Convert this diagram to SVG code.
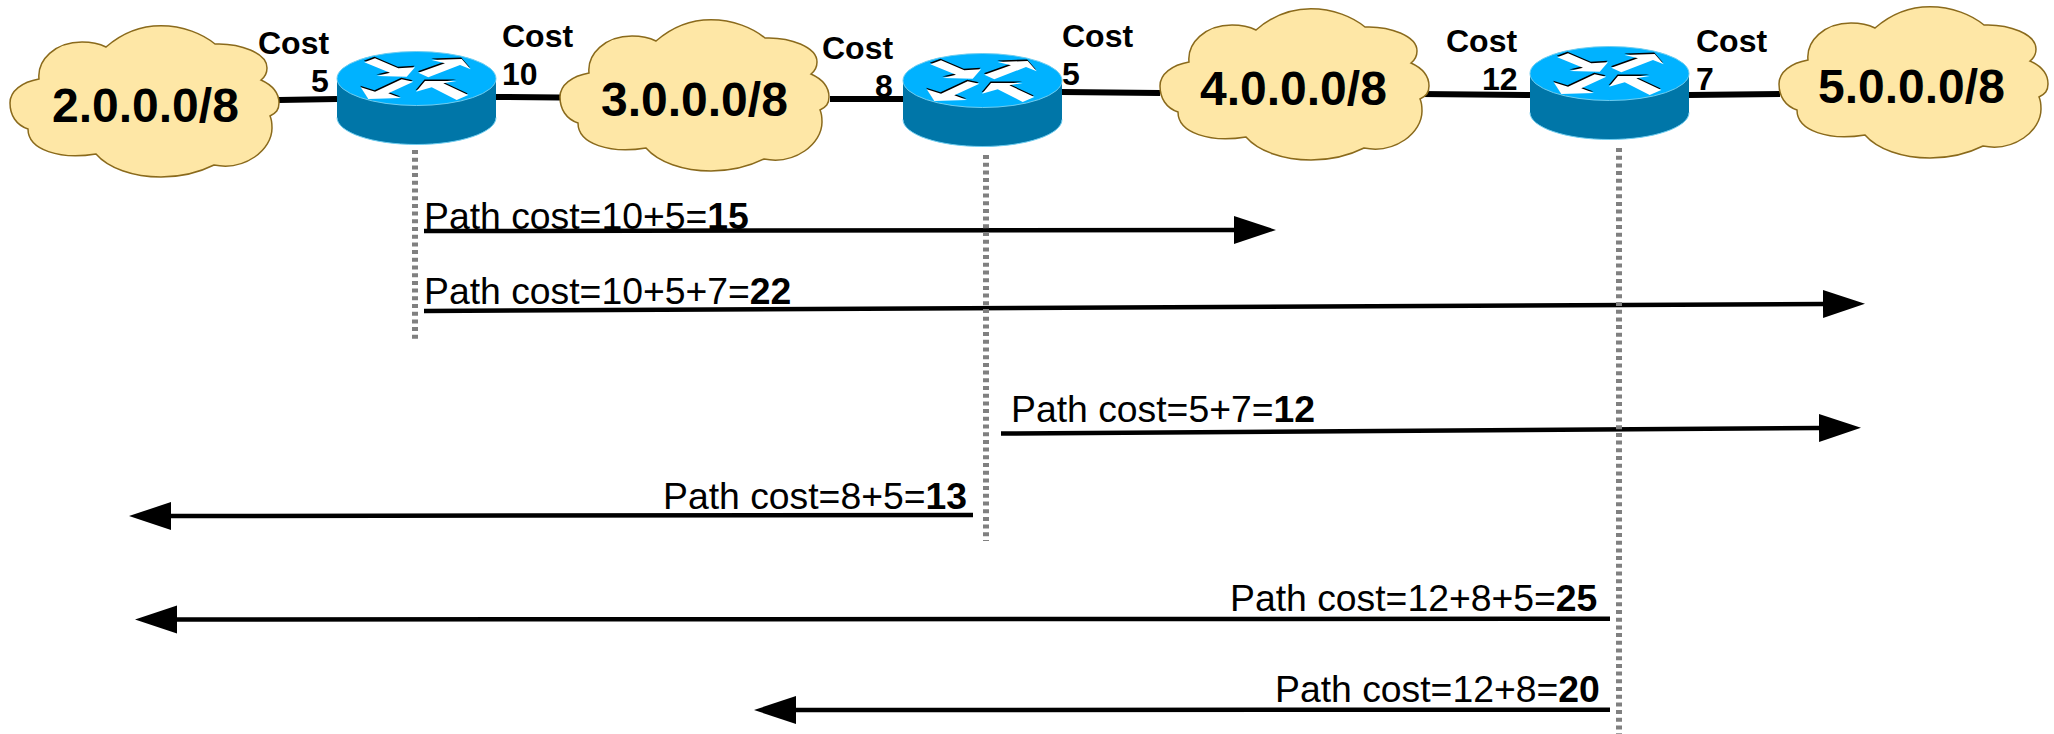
<svg xmlns="http://www.w3.org/2000/svg" xmlns:xlink="http://www.w3.org/1999/xlink" width="2054" height="734" viewBox="0 0 2054 734">
<style>
text{font-family:"Liberation Sans",Arial,sans-serif;fill:#000}
.net{font-size:48px;font-weight:700}
.cost{font-size:32px;font-weight:700}
.path{font-size:37.33px}
.path tspan{font-weight:700}
.link{stroke:#000;stroke-width:6;fill:none}
.arr{stroke:#000;stroke-width:4.5;fill:none;marker-end:url(#head)}
.dot{stroke:#808080;stroke-width:6;stroke-dasharray:4 3.7;fill:none}
.cloud{fill:#fee7a6;stroke:#8a6a1c;stroke-width:1.5}
</style>
<defs>
<marker id="head" markerUnits="userSpaceOnUse" markerWidth="44" markerHeight="30" viewBox="0 0 44 30" refX="1" refY="15" orient="auto"><path d="M0 1L42 15L0 29z" fill="#000"/></marker>
<path id="cl" class="cloud" d="M106 47C122 33 140 25.7 161 25.7C183 25.7 203 34 215 44C240 43 267 53 267 68C267 73 265 77 261 80C272 85 279 93 279 103C279 110 276 113 270 116C272 120 272 124 272 128C272 150 245 171 214 165C200 172 182 177 161 177C133 177 108 168 96 154C60 160 28 150 28 129C16 125 10 115 10 103C10 91 22 82 39 79C37 60 55 42 82 42C92 42 100 44 106 47Z"/>
<g id="arrows">
<path d="M364.3 62.3L375 58.3L398.3 68.3L415 67.3L406.7 76.7L376.7 76L390 72.7Z"/>
<path d="M418.3 72.7L445 63.3L431.7 60L461.7 59L470.7 69.3L460 65L428.3 77.3Z"/>
<path d="M360.7 87.3L375 91.7L401.7 79.3L413.3 81.7L388.3 93.3L401 98L368.3 99Z"/>
<path d="M416 91.7L425 81L456.7 81L443.3 83.3L468.3 95L456.7 100L431.7 87.3Z"/>
</g>
<g id="rt">
<path d="M337 78.5V117.5C337 132.4 372.6 144.5 416.5 144.5C460.4 144.5 496 132.4 496 117.5V78.5Z" fill="#0076a8"/>
<path d="M337 117.5C337 132.4 372.6 144.5 416.5 144.5C460.4 144.5 496 132.4 496 117.5" fill="none" stroke="#6fcdf0" stroke-width="1"/>
<ellipse cx="416.5" cy="78.5" rx="79.5" ry="27" fill="#00b2ff" stroke="#6fcdf0" stroke-width="1"/>
<use xlink:href="#arrows" href="#arrows" fill="#000" transform="translate(-.5 -1.5)"/>
<use xlink:href="#arrows" href="#arrows" fill="#fff"/>
</g>
</defs>
<g id="connectors">
<path class="link" d="M279 100L337 99"/>
<path class="link" d="M496 97L560 97.5"/>
<path class="link" d="M830 99L903 99"/>
<path class="link" d="M1062 92L1160 93"/>
<path class="link" d="M1420 94L1530 95"/>
<path class="link" d="M1689 95L1780 94"/>
<path class="arr" d="M424 231L1235 230"/>
<path class="arr" d="M424 311L1824 304"/>
<path class="arr" d="M1001 433.500L1820 428"/>
<path class="arr" d="M973 515L170 516"/>
<path class="arr" d="M1610 618.700L176 619.500"/>
<path class="arr" d="M1610 709.700L795 710"/>
<path class="dot" d="M415 150V341"/>
<path class="dot" d="M986 155V541"/>
<path class="dot" d="M1619 148V734"/>
</g>
<g id="cloud-2"><use xlink:href="#cl" href="#cl"/><text class="net" x="52" y="122">2.0.0.0/8</text></g>
<g id="cloud-3"><use xlink:href="#cl" href="#cl" transform="translate(550 -6)"/><text class="net" x="601" y="116">3.0.0.0/8</text></g>
<g id="cloud-4"><use xlink:href="#cl" href="#cl" transform="translate(1150 -17)"/><text class="net" x="1200" y="105">4.0.0.0/8</text></g>
<g id="cloud-5"><use xlink:href="#cl" href="#cl" transform="translate(1769 -19)"/><text class="net" x="1818" y="103">5.0.0.0/8</text></g>
<g id="router-1"><use xlink:href="#rt" href="#rt"/></g>
<g id="router-2"><use xlink:href="#rt" href="#rt" transform="translate(566 2)"/></g>
<g id="router-3"><use xlink:href="#rt" href="#rt" transform="translate(1193 -5)"/></g>
<g id="costs">
<text class="cost" x="258" y="54">Cost</text><text class="cost" x="311" y="92">5</text>
<text class="cost" x="502" y="47">Cost</text><text class="cost" x="502" y="85">10</text>
<text class="cost" x="822" y="59">Cost</text><text class="cost" x="875" y="97">8</text>
<text class="cost" x="1062" y="47">Cost</text><text class="cost" x="1062" y="85">5</text>
<text class="cost" x="1446" y="52">Cost</text><text class="cost" x="1482" y="90">12</text>
<text class="cost" x="1696" y="52">Cost</text><text class="cost" x="1696" y="90">7</text>
</g>
<g id="path-labels">
<text class="path" x="424" y="229">Path cost=10+5=<tspan>15</tspan></text>
<text class="path" x="424" y="304">Path cost=10+5+7=<tspan>22</tspan></text>
<text class="path" x="1011" y="422">Path cost=5+7=<tspan>12</tspan></text>
<text class="path" x="663" y="509">Path cost=8+5=<tspan>13</tspan></text>
<text class="path" x="1230" y="611">Path cost=12+8+5=<tspan>25</tspan></text>
<text class="path" x="1275" y="702">Path cost=12+8=<tspan>20</tspan></text>
</g>
</svg>
